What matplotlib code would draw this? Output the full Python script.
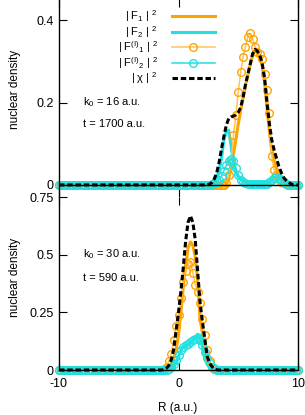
import numpy as np
import matplotlib
matplotlib.use("Agg")
import matplotlib.pyplot as plt

plt.rcParams['font.family'] = ['Liberation Sans', 'DejaVu Sans']
plt.rcParams['mathtext.fontset'] = 'custom'
plt.rcParams['mathtext.rm'] = 'Liberation Sans'
plt.rcParams['mathtext.it'] = 'Liberation Sans:italic'
plt.rcParams['mathtext.bf'] = 'Liberation Sans:bold'
plt.rcParams['axes.unicode_minus'] = False

# ---------------- data ----------------
R = np.round(np.arange(-10, 10.0001, 0.2), 1)

# top panel: k0 = 16 a.u., t = 1700 a.u.  (values from R = 2.6 upward, step 0.2)
top_start = 2.6
top_chi = [0.002, 0.006, 0.015, 0.03, 0.055, 0.088, 0.118, 0.145, 0.161, 0.165, 0.167, 0.170,
           0.176, 0.188, 0.212, 0.243, 0.268, 0.293, 0.318, 0.329, 0.325, 0.315, 0.295, 0.26,
           0.20, 0.15, 0.11, 0.085, 0.065, 0.045, 0.03, 0.018, 0.011, 0.006, 0.003]
top_F1 = [0, 0, 0, 0, 0, 0, 0, 0.003, 0.015, 0.04, 0.075, 0.11, 0.148, 0.18, 0.21, 0.24,
          0.266, 0.292, 0.315, 0.325, 0.323, 0.313, 0.29, 0.25, 0.19, 0.13, 0.085, 0.06,
          0.04, 0.022, 0.01, 0.003, 0, 0, 0]
top_F2 = [0, 0.003, 0.008, 0.02, 0.035, 0.065, 0.11, 0.13, 0.133, 0.095, 0.052, 0.03, 0.02,
          0.014, 0.01, 0.007, 0.005, 0.004, 0.003, 0.003, 0.003, 0.003, 0.003, 0.003, 0.003,
          0.006, 0.012, 0.018, 0.02, 0.018, 0.012, 0.006, 0.003, 0.001, 0]
top_FI1 = [0, 0, 0, 0, 0, 0, 0, 0.005, 0.025, 0.055, 0.12, 0.17, 0.225, 0.273, 0.31, 0.335,
           0.36, 0.368, 0.355, 0.335, 0.322, 0.318, 0.305, 0.27, 0.23, 0.175, 0.07, 0.037,
           0.025, 0.015, 0.008, 0.004, 0.002, 0, 0]
top_FI2 = [0, 0.002, 0.004, 0.008, 0.013, 0.022, 0.035, 0.048, 0.058, 0.062, 0.058, 0.042,
           0.025, 0.013, 0.007, 0.004, 0.002, 0.002, 0.002, 0.002, 0.002, 0.002, 0.002, 0.002,
           0.002, 0.006, 0.012, 0.018, 0.02, 0.018, 0.012, 0.006, 0.003, 0.001, 0]

# bottom panel: k0 = 30 a.u., t = 590 a.u.  (values from R = -1.4 upward, step 0.2)
bot_start = -1.4
bot_chi = [0.0, 0.002, 0.008, 0.02, 0.045, 0.09, 0.17, 0.25, 0.34, 0.445, 0.56, 0.64, 0.668,
           0.64, 0.565, 0.43, 0.295, 0.21, 0.135, 0.06, 0.03, 0.015, 0.005, 0.001]
bot_F1 = [0, 0, 0.002, 0.008, 0.025, 0.05, 0.09, 0.15, 0.25, 0.36, 0.45, 0.53, 0.555, 0.54,
          0.49, 0.39, 0.225, 0.16, 0.10, 0.035, 0.015, 0.005, 0.001, 0]
bot_F2 = [0, 0, 0, 0.002, 0.006, 0.015, 0.03, 0.055, 0.085, 0.1, 0.105, 0.11, 0.12, 0.13,
          0.142, 0.155, 0.15, 0.1, 0.05, 0.025, 0.01, 0.004, 0.001, 0]
bot_FI1 = [0, 0.005, 0.015, 0.04, 0.07, 0.13, 0.19, 0.24, 0.31, 0.38, 0.43, 0.46, 0.47, 0.42,
           0.37, 0.34, 0.29, 0.22, 0.15, 0.085, 0.04, 0.015, 0.005, 0]
bot_FI2 = [0, 0, 0.002, 0.006, 0.012, 0.025, 0.045, 0.065, 0.085, 0.1, 0.108, 0.112, 0.12,
           0.128, 0.135, 0.14, 0.13, 0.11, 0.08, 0.05, 0.03, 0.015, 0.007, 0.002]

labels = [r"| F$_1$ | $^2$", r"| F$_2$ | $^2$", r"| F$^{\mathrm{(I)}}$$_1$ | $^2$",
          r"| F$^{\mathrm{(I)}}$$_2$ | $^2$", r"| $\mathrm{\chi}$ | $^2$"]
top_texts = ["k$_0$ = 16 a.u.", "t = 1700 a.u."]
bot_texts = ["k$_0$ = 30 a.u.", "t = 590 a.u."]
x_ticks = [-10, 0, 10]
top_yticks = [0, 0.2, 0.4]
top_yticklabels = ["0", "0.2", "0.4"]
bot_yticks = [0, 0.25, 0.5, 0.75]
bot_yticklabels = ["0", "0.25", "0.5", "0.75"]


def full(start, vals):
    out = np.zeros(len(R))
    i = int(round((start + 10) / 0.2))
    out[i:i + len(vals)] = vals
    return out


ORANGE = '#FFA500'
LORANGE = '#FFC25A'
CYAN = '#22E0E0'

W, H = 305, 415
fig = plt.figure(figsize=(W / 100, H / 100), dpi=100)
left = 59 / W
width = (298 - 59) / W
ax1 = fig.add_axes([left, 1 - 197 / H, width, 198 / H])
ax2 = fig.add_axes([left, 1 - 370 / H, width, (370 - 197) / H])


def draw(ax, start, chi, F1, F2, FI1, FI2):
    hs = []
    hs += ax.plot(R, full(start, F1), color=ORANGE, lw=2.2, zorder=2)
    hs += ax.plot(R, full(start, F2), color=CYAN, lw=2.2, zorder=2.1)
    hs += ax.plot(R, full(start, FI1), color=LORANGE, lw=1.1, marker='o', ms=5.5,
                  mfc='none', mec=ORANGE, mew=1.0, zorder=2.2, clip_on=False)
    hs += ax.plot(R, full(start, FI2), color=CYAN, lw=1.1, marker='o', ms=5.5,
                  mfc='none', mec=CYAN, mew=1.0, zorder=2.3, clip_on=False)
    hs += ax.plot(R, full(start, chi), color='black', lw=2.2, ls=(0, (1.8, 0.9)),
                  zorder=5, clip_on=False)
    return hs


hs = draw(ax1, top_start, top_chi, top_F1, top_F2, top_FI1, top_FI2)
draw(ax2, bot_start, bot_chi, bot_F1, bot_F2, bot_FI1, bot_FI2)

ax1.axhline(0, color='black', lw=1.0, zorder=4.5)

ax1.set_xlim(-10, 10)
ax2.set_xlim(-10, 10)
ax1.set_ylim(-12 / 410, 185 / 410)
ax2.set_ylim(0, 0.75)

for ax in (ax1, ax2):
    ax.set_xticks(x_ticks)
    ax.tick_params(direction='in', length=5.5, width=0.8, top=True, right=True,
                   labelsize=9, colors='black')
    for s in ax.spines.values():
        s.set_linewidth(1.0)
ax1.spines['bottom'].set_visible(False)
ax2.spines['top'].set_visible(False)
ax1.tick_params(labelbottom=False, pad=4)
ax2.tick_params(axis='x', pad=6)
ax2.tick_params(axis='y', pad=4)
ax1.set_yticks(top_yticks)
ax1.set_yticklabels(top_yticklabels)
ax2.set_yticks(bot_yticks)
ax2.set_yticklabels(bot_yticklabels)

leg = ax1.legend(hs, labels, loc='upper right', bbox_to_anchor=(0.665, 0.97),
                 frameon=False, markerfirst=False, fontsize=8, handlelength=3.8,
                 handletextpad=1.3, labelspacing=-0.02, borderpad=0.3,
                 borderaxespad=0.0)

ax1.text(0.1, 0.477, top_texts[0], transform=ax1.transAxes, fontsize=8, va='center', ha='left')
ax1.text(0.1, 0.371, top_texts[1], transform=ax1.transAxes, fontsize=8, va='center', ha='left')
ax2.text(0.1, 0.669, bot_texts[0], transform=ax2.transAxes, fontsize=8, va='center', ha='left')
ax2.text(0.1, 0.530, bot_texts[1], transform=ax2.transAxes, fontsize=8, va='center', ha='left')

fig.text(15.5 / W, 1 - 89 / H, "nuclear density", rotation=90, fontsize=8.5,
         ha='center', va='center')
fig.text(15.5 / W, 1 - 277 / H, "nuclear density", rotation=90, fontsize=8.5,
         ha='center', va='center')
fig.text(178 / W, 1 - 408 / H, "R (a.u.)", fontsize=8.5, ha='center', va='center')

fig.savefig("out.png", dpi=100)
